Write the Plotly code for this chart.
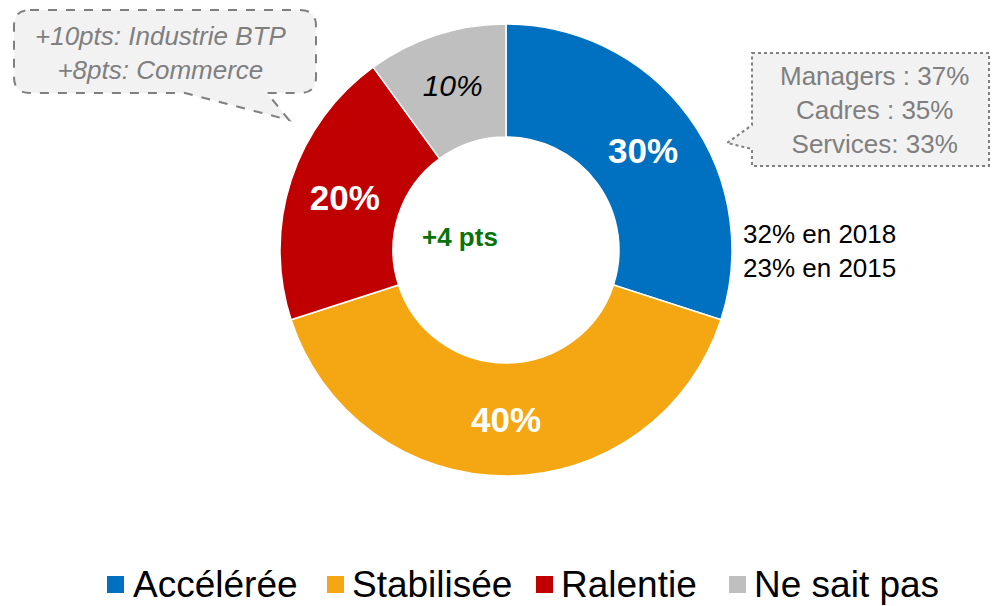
import plotly.graph_objects as go

# ---- data ----
categories = ["Accélérée", "Stabilisée", "Ralentie", "Ne sait pas"]
values = [30, 40, 20, 10]
colors = ["#0070C0", "#F4A712", "#C00000", "#BFBFBF"]
center_note = "+4 pts"
side_note = ["32% en 2018", "23% en 2015"]
callout_left = ["+10pts: Industrie BTP", "+8pts: Commerce"]
callout_right = ["Managers : 37%", "Cadres : 35%", "Services: 33%"]

W, H = 992, 606
FONT = "Arial, Liberation Sans, sans-serif"


def px(x):
    return x / W


def py(y):
    return 1 - y / H


fig = go.Figure()

fig.add_trace(go.Pie(
    labels=categories,
    values=values,
    sort=False,
    direction="clockwise",
    rotation=0,
    hole=0.5,
    marker=dict(colors=colors, line=dict(color="white", width=1.5)),
    texttemplate=["<b>%{value}%</b>", "<b>%{value}%</b>", "<b>%{value}%</b>", "<i>%{value}%</i>"],
    textposition="inside",
    insidetextorientation="horizontal",
    insidetextfont=dict(color=["white", "white", "white", "black"],
                        size=[35, 35, 35, 30], family=FONT),
    domain=dict(x=[px(280), px(732)], y=[py(476), py(24)]),
    showlegend=False,
    hoverinfo="label+percent",
))

shapes = []
annotations = []

# center note
annotations.append(dict(x=px(460), y=py(237), xref="paper", yref="paper",
                        xanchor="center", yanchor="middle",
                        text="<b>%s</b>" % center_note, showarrow=False,
                        font=dict(family=FONT, size=26, color="#0A720A")))

# side note
annotations.append(dict(x=px(741), y=py(251), xref="paper", yref="paper",
                        xanchor="left", yanchor="middle", align="left",
                        text="<br>".join(side_note), showarrow=False,
                        font=dict(family=FONT, size=26, color="black")))


def P(x, y):
    return "%.5f,%.5f" % (px(x), py(y))


# left callout (rounded, dashed)
L, R, T, B, r = 14, 316, 10, 93, 16
path_left = ("M" + P(L + r, T) + " L" + P(R - r, T) + " Q" + P(R, T) + " " + P(R, T + r) +
             " L" + P(R, B - r) + " Q" + P(R, B) + " " + P(R - r, B) +
             " L" + P(267, B) + " L" + P(289, 120) + " L" + P(185, B) +
             " L" + P(L + r, B) + " Q" + P(L, B) + " " + P(L, B - r) +
             " L" + P(L, T + r) + " Q" + P(L, T) + " " + P(L + r, T) + " Z")
shapes.append(dict(type="path", path=path_left, xref="paper", yref="paper",
                   fillcolor="#F2F2F2", line=dict(color="#7F7F7F", width=2, dash="dash")))
annotations.append(dict(x=px(160), y=py(53), xref="paper", yref="paper",
                        xanchor="center", yanchor="middle",
                        text="<br>".join("<i>%s</i>" % t for t in callout_left),
                        showarrow=False, align="center",
                        font=dict(family=FONT, size=26, color="#7F7F7F")))

# right callout (square, dotted)
L2, R2, T2, B2 = 752, 989, 53, 166
path_right = ("M" + P(L2, T2) + " L" + P(R2, T2) + " L" + P(R2, B2) + " L" + P(L2, B2) +
              " L" + P(L2, 149) + " L" + P(727, 143) + " L" + P(L2, 125) + " Z")
shapes.append(dict(type="path", path=path_right, xref="paper", yref="paper",
                   fillcolor="#F2F2F2", line=dict(color="#7F7F7F", width=2, dash="dot")))
annotations.append(dict(x=px(874), y=py(110), xref="paper", yref="paper",
                        xanchor="center", yanchor="middle",
                        text="<br>".join(callout_right), showarrow=False, align="center",
                        font=dict(family=FONT, size=26, color="#7F7F7F")))

# manual legend
sq_x = [107, 327, 536, 729]
tx_x = [131, 350, 559, 752]
for i, cat in enumerate(categories):
    shapes.append(dict(type="rect", xref="paper", yref="paper",
                       x0=px(sq_x[i]), x1=px(sq_x[i] + 17), y0=py(593), y1=py(576),
                       fillcolor=colors[i], line=dict(width=0)))
    annotations.append(dict(x=px(tx_x[i]), y=py(584), xref="paper", yref="paper",
                            xanchor="left", yanchor="middle", text=cat, showarrow=False,
                            font=dict(family=FONT, size=37, color="black")))

fig.update_layout(
    width=W, height=H,
    margin=dict(l=0, r=0, t=0, b=0),
    paper_bgcolor="white", plot_bgcolor="white",
    shapes=shapes, annotations=annotations,
    font=dict(family=FONT),
)

fig.write_html("out.html", config={"displayModeBar": False},
               post_script="document.body.style.margin='0';document.body.style.overflow='hidden';")
